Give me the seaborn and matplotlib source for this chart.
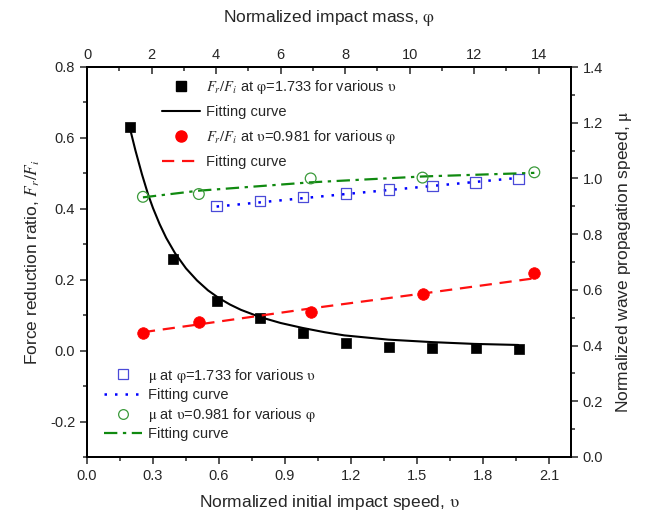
import numpy as np
import pandas as pd
import matplotlib
matplotlib.use("Agg")
import matplotlib.pyplot as plt
import seaborn as sns
from matplotlib.ticker import MultipleLocator
from matplotlib.lines import Line2D

# ---- data ----
# F_r/F_i at phi=1.733 for various upsilon (bottom/left axes)
ups_sq = [0.196, 0.392, 0.589, 0.785, 0.981, 1.177, 1.373, 1.570, 1.766, 1.962]
fr_sq = [0.630, 0.258, 0.140, 0.093, 0.050, 0.021, 0.011, 0.007, 0.007, 0.005]
# fitting curve
ups_fit = [0.194, 0.22, 0.25, 0.278, 0.30, 0.33, 0.36, 0.40, 0.45, 0.50, 0.55, 0.60,
           0.65, 0.70, 0.785, 0.88, 0.98, 1.08, 1.17, 1.37, 1.57, 1.76, 1.96]
fr_fit = [0.630, 0.565, 0.497, 0.440, 0.402, 0.357, 0.318, 0.275, 0.232, 0.198, 0.170, 0.148,
          0.130, 0.115, 0.095, 0.078, 0.064, 0.052, 0.043, 0.031, 0.024, 0.019, 0.016]

# F_r/F_i at upsilon=0.981 for various phi (top/left axes)
phi_ci = [1.733, 3.466, 6.932, 10.398, 13.864]
fr_ci = [0.050, 0.082, 0.110, 0.159, 0.220]
phi_fit_r = [1.733, 3.466, 6.932, 10.398, 13.864]
fr_fit_r = [0.052, 0.074, 0.119, 0.161, 0.204]

# mu at phi=1.733 for various upsilon (bottom/right axes)
ups_mu = [0.589, 0.785, 0.981, 1.177, 1.373, 1.570, 1.766, 1.962]
mu_sq = [0.901, 0.920, 0.933, 0.946, 0.960, 0.974, 0.985, 0.999]
ups_mu_fit = [0.589, 1.177, 1.962]
mu_fit_b = [0.899, 0.944, 1.002]

# mu at upsilon=0.981 for various phi (top/right axes)
phi_mu = [1.733, 3.466, 6.932, 10.398, 13.864]
mu_ci = [0.934, 0.944, 1.000, 1.003, 1.022]
phi_mu_fit = [1.733, 3.466, 6.932, 10.398, 13.864]
mu_fit_g = [0.932, 0.956, 0.986, 1.007, 1.020]

# ---- style ----
sns.set_style("ticks")
plt.rcParams["font.family"] = ["Liberation Sans", "DejaVu Sans"]
plt.rcParams["mathtext.fontset"] = "stix"
plt.rcParams["axes.unicode_minus"] = False
plt.rcParams["axes.linewidth"] = 1.1

FS = 10.5
LFS = 12.5
UPS = r"$\mathrm{\upsilon}$"
PHI = r"$\mathrm{\varphi}$"
MU = r"$\mathrm{\mu}$"

fig = plt.figure(figsize=(6.45, 5.24), dpi=100)
ax = fig.add_axes([87 / 645, 67 / 524, 484 / 645, 390 / 524])
axR = ax.twinx()
axT = ax.twiny()
axTR = axT.twinx()

# black: squares + solid fit
sns.lineplot(x=ups_fit, y=fr_fit, ax=ax, color="black", lw=1.5, sort=False)
sns.scatterplot(x=ups_sq, y=fr_sq, ax=ax, marker="s", s=50, color="black",
                edgecolor="black", linewidth=0.5, zorder=5)

# blue: open squares + dotted fit
sns.lineplot(x=ups_mu_fit, y=mu_fit_b, ax=axR, color="#0000ff", lw=1.8,
             linestyle=(0, (1, 3.2)), sort=False)
axR.scatter(ups_mu, mu_sq, marker="s", s=55, facecolors="none",
            edgecolors="#4a4ad8", linewidths=0.9, zorder=5)

# red: filled circles + dashed fit
sns.lineplot(x=phi_fit_r, y=fr_fit_r, ax=axT, color="#ff1010", lw=1.6,
             linestyle=(0, (5.5, 3.5)), sort=False)
sns.scatterplot(x=phi_ci, y=fr_ci, ax=axT, marker="o", s=70, color="#ff0000",
                edgecolor="#ff0000", linewidth=0.5, zorder=5)

# green: open circles + dash-dot fit
sns.lineplot(x=phi_mu_fit, y=mu_fit_g, ax=axTR, color="#108a10", lw=1.6,
             linestyle=(0, (6, 2.5, 1.5, 2.5)), sort=False)
axTR.scatter(phi_mu, mu_ci, marker="o", s=60, facecolors="none",
             edgecolors="#3a9a3a", linewidths=0.9, zorder=5)

# ---- axes ----
ax.set_xlim(0, 2.2)
ax.set_ylim(-0.3, 0.8)
ax.xaxis.set_minor_locator(MultipleLocator(0.15))
ax.yaxis.set_minor_locator(MultipleLocator(0.1))
ax.set_xticks([0.0, 0.3, 0.6, 0.9, 1.2, 1.5, 1.8, 2.1])
ax.set_xticklabels(["0.0", "0.3", "0.6", "0.9", "1.2", "1.5", "1.8", "2.1"])
ax.set_yticks([-0.2, 0.0, 0.2, 0.4, 0.6, 0.8])
ax.set_yticklabels(["-0.2", "0.0", "0.2", "0.4", "0.6", "0.8"])
ax.tick_params(which="major", direction="out", length=5, width=1.1, labelsize=FS)
ax.tick_params(which="minor", direction="out", length=3, width=1.1)

axR.set_ylim(0, 1.4)
axR.yaxis.set_minor_locator(MultipleLocator(0.1))
axR.set_yticks([0.0, 0.2, 0.4, 0.6, 0.8, 1.0, 1.2, 1.4])
axR.set_yticklabels(["0.0", "0.2", "0.4", "0.6", "0.8", "1.0", "1.2", "1.4"])
axR.tick_params(which="major", direction="out", length=5, width=1.1, labelsize=FS)
axR.tick_params(which="minor", direction="out", length=3, width=1.1)

axT.set_xlim(0, 15)
axT.xaxis.set_major_locator(MultipleLocator(2))
axT.xaxis.set_minor_locator(MultipleLocator(1))
axT.tick_params(which="major", direction="in", length=5, width=1.1, labelsize=FS)
axT.tick_params(which="minor", direction="in", length=3, width=1.1)

axTR.set_xlim(0, 15)
axTR.set_ylim(0, 1.4)
axTR.set_yticks([])
axTR.tick_params(right=False, labelright=False)
for a in (ax, axR, axT, axTR):
    for s in a.spines.values():
        s.set_visible(True)
        s.set_linewidth(1.1)
        s.set_color("black")
    a.set_xlabel("")
    a.set_ylabel("")

ax.set_xlabel("Normalized initial impact speed, " + UPS, fontsize=LFS, labelpad=7)
ax.set_ylabel(r"Force reduction ratio, $F_r/F_i$", fontsize=LFS, labelpad=6)
axR.set_ylabel("Normalized wave propagation speed, " + MU, fontsize=LFS, labelpad=8)
axT.set_xlabel("Normalized impact mass, " + PHI, fontsize=LFS, labelpad=19)

# ---- legends ----
h1 = [
    Line2D([], [], ls="none", marker="s", ms=6.5, color="black"),
    Line2D([], [], color="black", lw=1.5),
    Line2D([], [], ls="none", marker="o", ms=8, color="#ff0000"),
    Line2D([], [], color="#ff1010", lw=1.6, ls=(0, (5.5, 3.5))),
]
l1 = [r"$F_r/F_i$ at " + PHI + "=1.733 for various " + UPS, "Fitting curve",
      r"$F_r/F_i$ at " + UPS + "=0.981 for various " + PHI, "Fitting curve"]
leg1 = axTR.legend(h1, l1, loc="upper left", bbox_to_anchor=(0.155, 0.972),
                   frameon=False, fontsize=FS, handlelength=2.6, handletextpad=0.4,
                   labelspacing=0.62, borderpad=0, borderaxespad=0)
axTR.add_artist(leg1)

h2 = [
    Line2D([], [], ls="none", marker="s", ms=6.5, mfc="none", mec="#4a4ad8", mew=0.9),
    Line2D([], [], color="#0000ff", lw=1.8, ls=(0, (1, 3.2))),
    Line2D([], [], ls="none", marker="o", ms=7, mfc="none", mec="#3a9a3a", mew=0.9),
    Line2D([], [], color="#108a10", lw=1.6, ls=(0, (6, 2.5, 1.5, 2.5))),
]
l2 = [MU + " at " + PHI + "=1.733 for various " + UPS, "Fitting curve",
      MU + " at " + UPS + "=0.981 for various " + PHI, "Fitting curve"]
leg2 = axTR.legend(h2, l2, loc="upper left", bbox_to_anchor=(0.035, 0.232),
                   frameon=False, fontsize=FS, handlelength=2.6, handletextpad=0.4,
                   labelspacing=0.25, borderpad=0, borderaxespad=0)

fig.savefig("out.png", dpi=100)
